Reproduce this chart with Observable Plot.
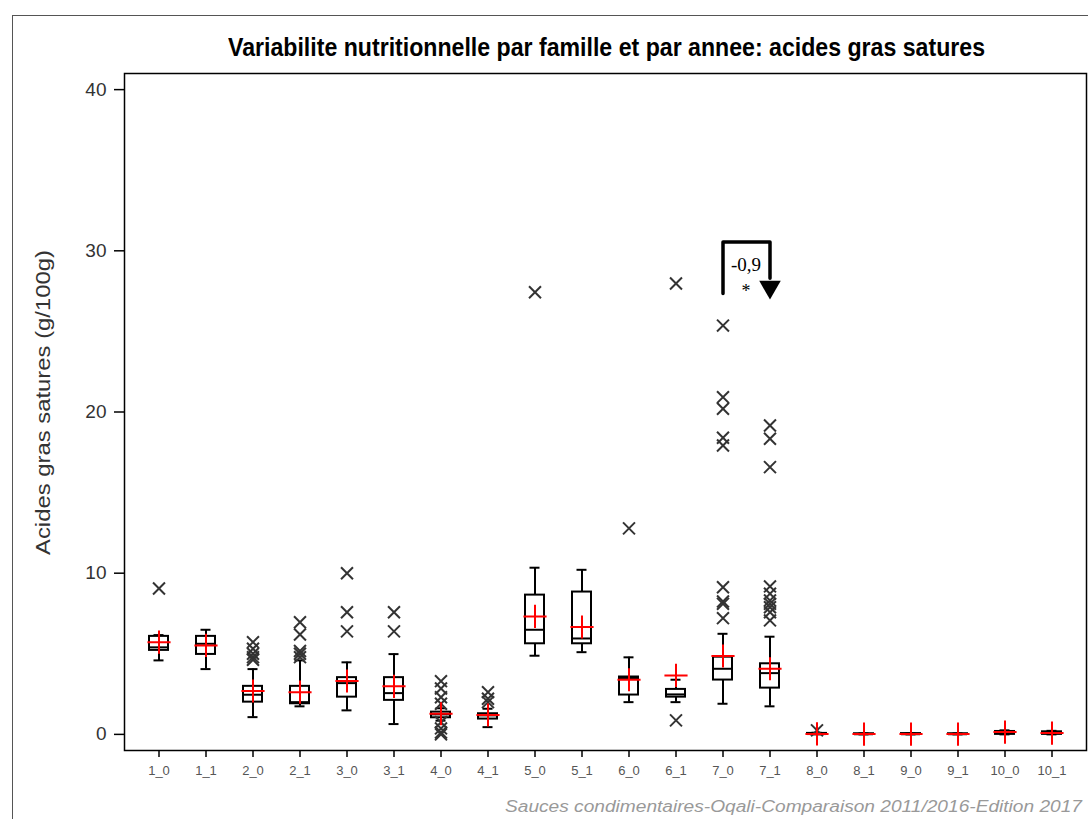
<!DOCTYPE html>
<html>
<head>
<meta charset="utf-8">
<script src="https://cdn.jsdelivr.net/npm/d3@7"></script>
<script src="https://cdn.jsdelivr.net/npm/@observablehq/plot@0.6"></script>
<style>
  body { margin: 0; background: #fff; }
  #wrap { position: relative; width: 1088px; height: 819px; overflow: hidden; font-family: "Liberation Sans", Arial, sans-serif; background: #fff; }
  #chart { position: absolute; left: 0; top: 0; }
  #border { position: absolute; left: 12px; top: 15px; width: 1200px; height: 1000px; border: 1.5px solid #555; pointer-events: none; }
  .fit { position: absolute; white-space: nowrap; transform-origin: 0 0; }
  #title { font-family: "Liberation Sans Narrow", "Arial Narrow", "Liberation Sans", sans-serif; font-weight: bold; font-size: 25px; color: #000; }
  #ylabel { font-size: 21px; color: #333; }
  #caption { font-style: italic; font-size: 16px; color: #999; }
</style>
</head>
<body>
<div id="wrap">
  <div id="chart"></div>
  <div id="title" class="fit">Variabilite nutritionnelle par famille et par annee: acides gras satures</div>
  <div id="ylabel" class="fit">Acides gras satures (g/100g)</div>
  <div id="caption" class="fit">Sauces condimentaires-Oqali-Comparaison 2011/2016-Edition 2017</div>
  <div id="border"></div>
</div>
<script>
// ---- Data ----
const cats   = ["1_0","1_1","2_0","2_1","3_0","3_1","4_0","4_1","5_0","5_1","6_0","6_1","7_0","7_1","8_0","8_1","9_0","9_1","10_0","10_1"];
const q1     = [5.21, 4.96, 2.00, 1.90, 2.31, 2.11, 1.03, 0.95, 5.62, 5.62, 2.44, 2.31, 3.37, 2.87, 0.00, 0.00, 0.00, 0.00, 0.00, 0.00];
const median = [5.40, 5.62, 2.46, 2.00, 3.18, 2.56, 1.24, 1.18, 6.49, 5.95, 3.50, 2.48, 4.07, 3.80, 0.02, 0.01, 0.01, 0.01, 0.08, 0.08];
const q3     = [6.08, 6.08, 2.98, 2.98, 3.52, 3.52, 1.38, 1.28, 8.64, 8.83, 3.56, 2.79, 4.79, 4.38, 0.06, 0.04, 0.05, 0.04, 0.18, 0.16];
const whiskerLow  = [4.59, 4.05, 1.07, 1.74, 1.49, 0.64, 0.85, 0.45, 4.88, 5.10, 2.00, 2.00, 1.90, 1.74, 0.00, 0.00, 0.00, 0.00, 0.00, 0.00];
const whiskerHigh = [6.16, 6.49, 4.05, 4.59, 4.47, 4.98, 1.62, 1.59, 10.34, 10.21, 4.78, 3.39, 6.24, 6.06, 0.10, 0.06, 0.06, 0.06, 0.25, 0.22];
const means  = [5.72, 5.52, 2.69, 2.62, 3.31, 2.98, 1.28, 1.20, 7.32, 6.66, 3.39, 3.66, 4.86, 4.07, 0.03, 0.02, 0.02, 0.02, 0.14, 0.08];

const outlierCat = ["1_0",
  "2_0","2_0","2_0","2_0","2_0",
  "2_1","2_1","2_1","2_1","2_1",
  "3_0","3_0","3_0",
  "3_1","3_1",
  "4_0","4_0","4_0","4_0","4_0","4_0","4_0","4_0",
  "4_1","4_1","4_1",
  "5_0",
  "6_0",
  "6_1","6_1",
  "7_0","7_0","7_0","7_0","7_0","7_0","7_0","7_0","7_0",
  "7_1","7_1","7_1","7_1","7_1","7_1","7_1","7_1","7_1","7_1",
  "8_0"];
const outlierVal = [9.05,
  5.72, 5.31, 5.00, 4.79, 4.63,
  6.96, 6.20, 5.17, 5.00, 4.79,
  10.0, 7.58, 6.39,
  7.58, 6.39,
  3.30, 2.85, 2.30, 1.90, 0.75, 0.37, 0.12, 0.00,
  2.62, 2.21, 2.00,
  27.43,
  12.78,
  27.97, 0.87,
  25.36, 20.92, 20.20, 18.40, 17.92, 9.13, 8.25, 8.10, 7.21,
  19.16, 18.34, 16.58, 9.18, 8.73, 8.31, 8.10, 7.89, 7.58, 7.07,
  0.25];

const yTicks = [0, 10, 20, 30, 40];

// Annotation: comparison 7_0 -> 7_1
const annotFrom = "7_0", annotTo = "7_1";
const annotBase = 27.35, annotTop = 30.55, annotArrowEnd = 28.3, annotTip = 27.75;
const annotText = "-0,9", annotStar = "*";

// ---- Build tables ----
const boxes = cats.map((c, i) => ({c, q1: q1[i], med: median[i], q3: q3[i], lo: whiskerLow[i], hi: whiskerHigh[i], mean: means[i]}));
const outliers = outlierCat.map((c, i) => ({c, v: outlierVal[i]}));
const bracket = [
  {c: annotFrom, v: annotBase},
  {c: annotFrom, v: annotTop},
  {c: annotTo, v: annotTop},
  {c: annotTo, v: annotArrowEnd}
];

const plot = Plot.plot({
  width: 1088,
  height: 819,
  marginLeft: 124,
  marginRight: 2,
  marginTop: 73,
  marginBottom: 69,
  style: {background: "transparent", fontFamily: "'Liberation Sans', Arial, sans-serif"},
  x: {type: "band", domain: cats, paddingInner: 0.6, paddingOuter: 0.478, label: null},
  y: {domain: [-1, 41], label: null},
  marks: [
    Plot.axisY({ticks: yTicks, tickSize: 10, tickPadding: 8, fontSize: 19, fill: "#333", stroke: "#000", strokeWidth: 1.5, label: null}),
    Plot.axisX({tickSize: 7, tickPadding: 8, fontSize: 13, fill: "#555", stroke: "#000", strokeWidth: 1.5, label: null}),
    Plot.ruleX(boxes, {x: "c", y1: "q3", y2: "hi", stroke: "#000", strokeWidth: 2}),
    Plot.ruleX(boxes, {x: "c", y1: "q1", y2: "lo", stroke: "#000", strokeWidth: 2}),
    Plot.tickY(boxes, {x: "c", y: "hi", stroke: "#000", strokeWidth: 2, insetLeft: 4.5, insetRight: 4.5}),
    Plot.tickY(boxes, {x: "c", y: "lo", stroke: "#000", strokeWidth: 2, insetLeft: 4.5, insetRight: 4.5}),
    Plot.barY(boxes, {x: "c", y1: "q1", y2: "q3", fill: "white", stroke: "#000", strokeWidth: 2}),
    Plot.tickY(boxes, {x: "c", y: "med", stroke: "#000", strokeWidth: 2}),
    Plot.dot(outliers, {x: "c", y: "v", symbol: "times", r: 5.5, stroke: "#333", strokeWidth: 2}),
    Plot.dot(boxes, {x: "c", y: "mean", symbol: "plus", r: 7.5, stroke: "#ff0000", strokeWidth: 2}),
    Plot.line(bracket, {x: "c", y: "v", stroke: "#000", strokeWidth: 3.5, strokeLinejoin: "round"}),
    Plot.dot([{c: annotTo, v: annotTip}], {x: "c", y: "v", symbol: "triangle", r: 8, fill: "#000", stroke: null, rotate: 180}),
    Plot.text([{c: annotFrom, v: 29.1, t: annotText}], {x: "c", y: "v", text: "t", dx: 23, fontSize: 19, fontFamily: "'Liberation Serif', 'Times New Roman', serif", fill: "#000"}),
    Plot.text([{c: annotFrom, v: 27.5, t: annotStar}], {x: "c", y: "v", text: "t", dx: 23, fontSize: 18, fontFamily: "'Liberation Serif', 'Times New Roman', serif", fill: "#000"}),
    Plot.frame({stroke: "#000", strokeWidth: 1.5})
  ]
});
document.getElementById("chart").appendChild(plot);

// Fit texts to the widths observed in the reference
function place(id, target, opts) {
  const el = document.getElementById(id);
  const w = el.getBoundingClientRect().width;
  const s = target / w;
  if (opts.rotate) {
    el.style.left = opts.cx + "px";
    el.style.top = (opts.cy + target / 2) + "px";
    el.style.transform = `rotate(-90deg) scaleX(${s}) translate(0, -50%)`;
  } else {
    el.style.left = (opts.cx - target / 2) + "px";
    el.style.top = opts.top + "px";
    el.style.transform = `scaleX(${s})`;
  }
}
place("title", 757, {cx: 606, top: 33});
place("caption", 577, {cx: 793.5, top: 798});
place("ylabel", 305, {rotate: true, cx: 43, cy: 402});
</script>
</body>
</html>
